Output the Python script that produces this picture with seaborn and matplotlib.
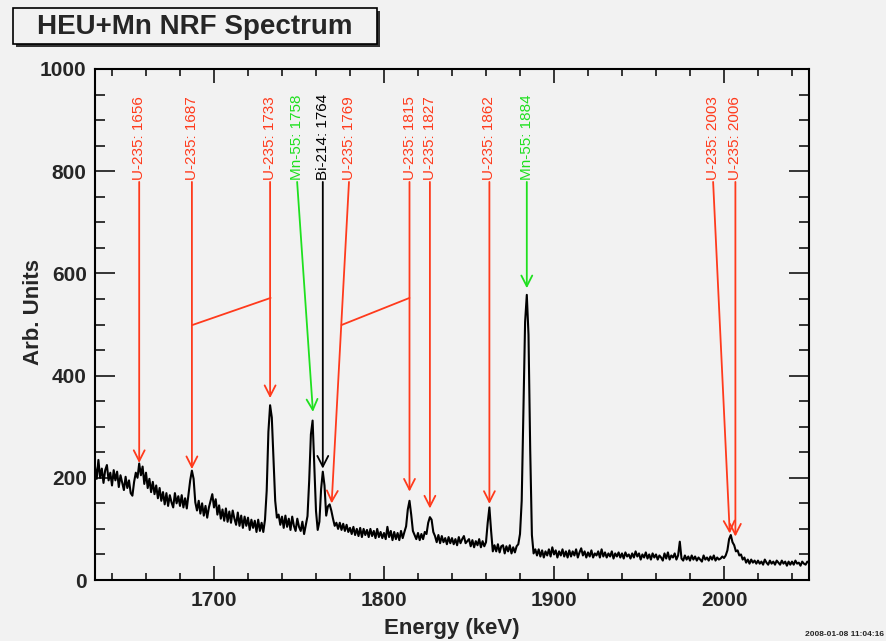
import numpy as np
import pandas as pd
import matplotlib
matplotlib.use("Agg")
import matplotlib.pyplot as plt
from matplotlib.patches import Rectangle
from matplotlib.ticker import MultipleLocator
import seaborn as sns

# ---------------- data ----------------
energy_start = 1630
energy_stop = 2050
counts = [
    222, 198, 235, 200, 218, 190, 215, 225, 195, 210,
    185, 215, 195, 212, 182, 205, 190, 176, 202, 180,
    195, 170, 165, 192, 210, 200, 228, 205, 222, 188,
    210, 180, 198, 172, 192, 168, 185, 160, 180, 155,
    172, 148, 170, 145, 166, 152, 142, 170, 150, 164,
    145, 166, 142, 160, 140, 168, 195, 214, 198, 152,
    136, 155, 130, 150, 126, 145, 122, 142, 155, 168,
    142, 158, 128, 146, 120, 138, 116, 140, 114, 134,
    112, 136, 120, 108, 132, 106, 126, 102, 124, 106,
    122, 98, 118, 102, 116, 94, 118, 96, 112, 94,
    118, 175, 290, 342, 318, 235, 155, 122, 128, 108,
    124, 102, 126, 104, 120, 98, 124, 106, 96, 120,
    104, 96, 114, 90, 108, 125, 195, 285, 312, 225,
    135, 98, 114, 178, 212, 185, 126, 144, 148, 136,
    120, 106, 112, 100, 112, 98, 110, 96, 108, 94,
    102, 90, 104, 88, 100, 86, 102, 84, 100, 88,
    98, 84, 100, 86, 96, 82, 100, 84, 94, 82,
    92, 80, 104, 84, 96, 78, 94, 80, 92, 78,
    96, 82, 94, 105, 138, 155, 128, 96, 88, 80,
    92, 78, 90, 80, 94, 90, 112, 123, 118, 94,
    86, 74, 88, 72, 86, 74, 82, 70, 84, 72,
    82, 70, 80, 68, 84, 72, 80, 86, 72, 76,
    80, 66, 78, 64, 76, 68, 80, 64, 76, 66,
    74, 112, 142, 96, 56, 68, 56, 70, 54, 66,
    68, 52, 66, 56, 68, 52, 64, 54, 66, 70,
    90, 155, 335, 505, 558, 480, 255, 88, 52, 60,
    48, 60, 46, 58, 44, 56, 48, 60, 46, 64,
    50, 58, 44, 56, 48, 60, 46, 56, 44, 58,
    46, 56, 48, 60, 44, 54, 62, 48, 56, 44,
    54, 46, 58, 44, 52, 48, 56, 44, 60, 46,
    54, 44, 52, 46, 56, 42, 52, 46, 54, 44,
    52, 42, 54, 46, 50, 42, 52, 44, 56, 46,
    52, 40, 50, 44, 54, 42, 50, 40, 52, 44,
    50, 40, 48, 44, 38, 52, 42, 54, 40, 48,
    44, 52, 40, 48, 75, 42, 38, 48, 40, 46,
    38, 48, 40, 46, 38, 44, 40, 36, 48, 40,
    44, 38, 46, 40, 48, 38, 44, 40, 42, 46,
    43, 48, 58, 80, 88, 74, 68, 56, 58, 48,
    50, 40, 44, 34, 40, 32, 40, 34, 38, 32,
    38, 32, 36, 30, 40, 34, 30, 38, 32, 36,
    30, 38, 34, 30, 38, 32, 36, 28, 36, 30,
    36, 30, 38, 32, 34, 28, 36, 32, 30, 36,
    34,
]
energies = list(range(energy_start, energy_stop + 1))

line_labels = ["U-235: 1656", "U-235: 1687", "U-235: 1733", "Mn-55: 1758",
               "Bi-214: 1764", "U-235: 1769", "U-235: 1815", "U-235: 1827",
               "U-235: 1862", "Mn-55: 1884", "U-235: 2003", "U-235: 2006"]
line_kind = ["U", "U", "U", "Mn", "Bi", "U", "U", "U", "U", "Mn", "U", "U"]
line_energy = [1656, 1687, 1733, 1758.2, 1764, 1769.2, 1815, 1827, 1862, 1884, 2003.4, 2006.7]
line_tip = [229, 217, 356, 329, 218, 150, 173, 140, 149, 571, 91, 85]
label_pos = [1656, 1687, 1733, 1748.9, 1764, 1779.4, 1815, 1827, 1862, 1884, 1993.6, 2006.7]

kind_colors = {"U": "#ff3a1c", "Mn": "#1fe01f", "Bi": "#000000"}

# ---------------- style ----------------
BG = "#f2f2f2"
sns.set_style("ticks", {"axes.facecolor": BG, "figure.facecolor": BG})
plt.rcParams["font.family"] = ["Liberation Sans", "DejaVu Sans"]

fig = plt.figure(figsize=(8.86, 6.41), dpi=100)
ax = fig.add_axes([95 / 886, 1 - 580 / 641, 714 / 886, 511 / 641])

df = pd.DataFrame({"Energy": energies, "Counts": counts})
sns.lineplot(data=df, x="Energy", y="Counts", color="black", lw=1.5, ax=ax)

ax.set_xlim(energy_start, energy_stop)
ax.set_ylim(0, 1000)
ax.xaxis.set_major_locator(MultipleLocator(100))
ax.xaxis.set_minor_locator(MultipleLocator(20))
ax.yaxis.set_major_locator(MultipleLocator(200))
ax.yaxis.set_minor_locator(MultipleLocator(50))

ax.tick_params(axis="x", which="major", direction="in", length=10, width=1.3,
               top=True, bottom=True, labelsize=15, pad=8)
ax.tick_params(axis="x", which="minor", direction="in", length=5, width=1.3,
               top=True, bottom=True)
ax.tick_params(axis="y", which="major", direction="in", length=14.5, width=1.3,
               left=True, right=True, labelsize=15, pad=6)
ax.tick_params(axis="y", which="minor", direction="in", length=7, width=1.3,
               left=True, right=True)
for lab in ax.get_xticklabels() + ax.get_yticklabels():
    lab.set_fontweight("bold")
for sp in ax.spines.values():
    sp.set_linewidth(1.5)
    sp.set_color("black")
    sp.set_visible(True)

ax.set_xlabel("Energy (keV)", fontsize=16, fontweight="bold", labelpad=6)
ax.set_ylabel("Arb. Units", fontsize=16, fontweight="bold")
ax.yaxis.set_label_coords(-0.072, 0.525)

# ---------------- annotations ----------------
line_top = 779
for lab, kind, e, tip, lp in zip(line_labels, line_kind, line_energy, line_tip, label_pos):
    c = kind_colors[kind]
    ax.annotate("", xy=(e, tip), xytext=(lp, line_top),
                arrowprops=dict(arrowstyle="->,head_length=0.55,head_width=0.28",
                                color=c, lw=1.3, shrinkA=0, shrinkB=0,
                                mutation_scale=14))
    ax.text(lp, line_top + 4, lab, rotation=90, ha="center", va="bottom",
            color=c, fontsize=11)

# stray connector segments seen in the reference
ax.plot([1687.3, 1733.3], [499, 552], color=kind_colors["U"], lw=1.3)
ax.plot([1775.0, 1815.0], [499, 552], color=kind_colors["U"], lw=1.3)

# ---------------- title box ----------------
W, H = 886, 641
x0, y0, x1, y1 = 13, 8, 377, 44
shadow = Rectangle(((x0 + 3) / W, 1 - (y1 + 3) / H), (x1 - x0) / W, (y1 - y0) / H,
                   transform=fig.transFigure, facecolor="#333333", edgecolor="none", zorder=5)
box = Rectangle((x0 / W, 1 - y1 / H), (x1 - x0) / W, (y1 - y0) / H,
                transform=fig.transFigure, facecolor=BG, edgecolor="black", lw=1.2, zorder=6)
fig.patches.extend([shadow, box])
fig.text(195 / W, 1 - 26.5 / H, "HEU+Mn NRF Spectrum", ha="center", va="center",
         fontsize=20, fontweight="bold", zorder=7)

fig.text(884 / W, 1 - 635 / H, "2008-01-08 11:04:16", ha="right", va="center",
         fontsize=6, fontweight="bold")

fig.savefig("out.png", dpi=100, facecolor=BG)
